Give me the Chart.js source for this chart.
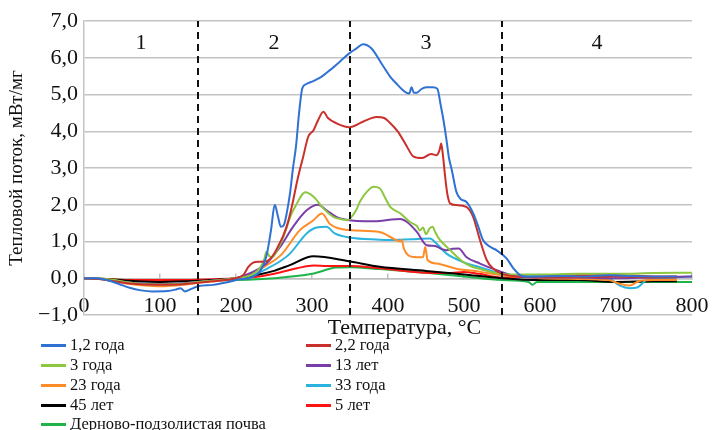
<!DOCTYPE html>
<html><head><meta charset="utf-8">
<script src="https://cdn.jsdelivr.net/npm/chart.js@4.4.1/dist/chart.umd.min.js"></script>
<style>
html,body{margin:0;padding:0;background:#fff;}
#wrap{position:relative;width:712px;height:430px;overflow:hidden;}
#c{position:absolute;left:0;top:0;width:712px;height:430px;}
#legend{position:absolute;left:0;top:0;width:712px;height:430px;pointer-events:none;font-family:"Liberation Serif","Times New Roman",serif;font-size:16.5px;color:#111;}
.item{position:absolute;display:flex;align-items:center;white-space:nowrap;height:20px;line-height:20px;}
.sw{width:25px;height:3px;margin-right:4px;flex:none;}
</style></head>
<body><div id="wrap"><canvas id="c" width="712" height="430"></canvas><div id="legend"></div></div>
<script>
const SERIF = '"Liberation Serif","Times New Roman",serif';

const seriesNames = ['1,2 года','2,2 года','3 года','13 лет','23 года','33 года','45 лет','5 лет','Дерново-подзолистая почва'];
const seriesColors = ['#2f72d4','#c9302c','#8dc63f','#7a3ea8','#ff8c26','#2ab3df','#000000','#ff1414','#1fb34a'];

const t_12 = [0,15,30,45,60,75,90,110,122,127,133,140,150,170,190,205,220,232,240,246,251,255,259,263,267,271,275,279,283,287,292,300,310,324,337,349,359,367,378,394,403,411,418,424,428,431,434,438,444,450,459,465,469,473,477,480,484,490,496,503,512,518,525,535,543,556,565,574,585,600,630,660,690,720,750,780];
const v_12 = [0,0,-0.05,-0.15,-0.26,-0.33,-0.36,-0.35,-0.3,-0.27,-0.36,-0.3,-0.22,-0.18,-0.1,-0.03,0.02,0.2,0.6,1.3,2.0,1.7,1.4,1.45,1.8,2.3,3.0,3.6,4.5,5.15,5.28,5.35,5.45,5.67,5.9,6.12,6.26,6.37,6.26,5.76,5.48,5.3,5.15,5.05,5.03,5.2,5.05,5.05,5.15,5.2,5.2,5.15,4.75,4.3,3.76,3.3,2.94,2.35,2.15,2.08,1.77,1.45,1.04,0.85,0.76,0.54,0.27,0.08,0.04,0.05,0.06,0.05,0.08,0.06,0.05,0.05];

const t_22 = [0,20,40,60,80,100,130,150,180,200,210,216,222,230,240,248,255,262,268,274,280,284,288,295,302,308,315,321,332,349,367,385,395,403,413,425,433,444,457,464,468,470,472,475,478,482,490,503,512,521,530,538,550,570,600,650,700,750,780];
const v_22 = [0,-0.02,-0.08,-0.14,-0.17,-0.18,-0.16,-0.12,-0.06,0,0.1,0.3,0.42,0.45,0.46,0.6,0.85,1.15,1.5,2.0,2.6,2.95,3.27,3.85,4.03,4.3,4.53,4.36,4.22,4.11,4.26,4.39,4.36,4.22,3.99,3.58,3.32,3.27,3.38,3.35,3.5,3.67,3.4,2.8,2.3,2.03,1.99,1.94,1.67,1.04,0.49,0.27,0.12,0.05,0.03,0.03,0.05,0.02,0.02];

const t_3 = [0,20,40,60,80,100,130,150,180,200,215,225,232,237,240,244,248,255,262,267,273,280,286,291,302,315,328,340,347,352,358,363,372,381,389,396,403,416,429,438,442,446,450,455,459,462,468,475,482,490,499,510,521,540,560,600,650,700,750,800];
const v_3 = [0,-0.01,-0.05,-0.12,-0.16,-0.17,-0.15,-0.1,-0.05,0,0.05,0.15,0.3,0.5,0.72,0.6,0.58,0.8,1.1,1.4,1.75,2.03,2.25,2.34,2.22,1.9,1.67,1.6,1.58,1.67,1.85,2.08,2.35,2.49,2.45,2.2,1.94,1.77,1.53,1.42,1.3,1.38,1.2,1.36,1.4,1.26,1.05,0.9,0.76,0.6,0.44,0.32,0.25,0.15,0.1,0.1,0.12,0.12,0.14,0.15];

const t_13 = [0,20,40,60,80,100,130,150,180,200,220,240,258,275,293,308,319,332,349,370,389,405,416,425,438,451,462,470,477,485,493,503,521,543,570,600,650,700,750,800];
const v_13 = [0,-0.01,-0.06,-0.12,-0.15,-0.16,-0.14,-0.1,-0.05,0,0.15,0.4,0.85,1.4,1.85,2.0,1.85,1.67,1.58,1.55,1.56,1.6,1.61,1.53,1.26,0.9,0.88,0.8,0.76,0.8,0.81,0.58,0.4,0.22,0.05,0.02,0.02,0.0,0.03,0.05];

const t_23 = [0,20,40,60,80,100,130,150,180,200,220,240,260,284,302,313,324,349,389,407,416,418,421,433,446,449,452,464,490,520,550,600,650,690,705,718,730,750,780];
const v_23 = [0,-0.02,-0.08,-0.16,-0.2,-0.22,-0.18,-0.12,-0.06,0,0.12,0.35,0.65,1.31,1.58,1.76,1.47,1.31,1.26,1.08,1.0,1.04,0.8,0.58,0.57,0.85,0.5,0.4,0.26,0.18,0.08,0.0,-0.02,-0.05,-0.15,-0.2,-0.08,-0.05,-0.05];

const t_33 = [0,20,40,60,80,100,130,150,180,200,220,240,270,293,306,319,330,349,389,403,430,455,464,477,499,521,550,600,650,690,705,718,728,740,760,800];
const v_33 = [0,-0.02,-0.06,-0.12,-0.15,-0.16,-0.14,-0.1,-0.05,0,0.08,0.25,0.65,1.22,1.38,1.4,1.22,1.11,1.05,1.04,1.06,1.08,0.94,0.67,0.44,0.3,0.12,0.05,0.03,0.0,-0.2,-0.27,-0.25,-0.05,0.0,0.05];

const t_45 = [0,30,60,100,150,200,230,250,270,302,349,389,450,500,550,600,650,700,750,780];
const v_45 = [0,-0.03,-0.07,-0.1,-0.07,0,0.1,0.2,0.35,0.6,0.46,0.31,0.2,0.1,0.0,-0.05,-0.05,-0.1,-0.08,-0.08];

const t_5 = [0,30,60,100,150,200,230,260,280,302,320,349,389,450,480,500,520,550,600,650,700,750,780];
const v_5 = [0,-0.02,-0.05,-0.05,-0.04,0,0.05,0.17,0.27,0.35,0.33,0.33,0.27,0.15,0.14,0.17,0.12,0.02,0.05,0.08,0.08,0.05,0.05];

const t_soil = [0,30,60,100,150,200,250,300,332,349,389,450,500,550,585,590,596,650,700,750,800];
const v_soil = [0,-0.02,-0.05,-0.06,-0.06,-0.05,0.0,0.12,0.29,0.3,0.25,0.15,0.05,-0.05,-0.1,-0.18,-0.1,-0.1,-0.1,-0.1,-0.1];

const seriesTemps = [t_12,t_22,t_3,t_13,t_23,t_33,t_45,t_5,t_soil];
const seriesFlux  = [v_12,v_22,v_3,v_13,v_23,v_33,v_45,v_5,v_soil];

const zoneBounds = [150,350,550];
const zoneLabels = ['1','2','3','4'];
const zoneLabelTemps = [75,250,450,675];
const zoneLabelLevel = 6.4;

const xMin = 0, xMax = 800, xStep = 100;
const yMin = -1, yMax = 7, yStep = 1;

const datasets = seriesNames.map((name,i)=>({
  label:name,
  data: seriesTemps[i].map((t,j)=>({x:t,y:seriesFlux[i][j]})),
  borderColor: seriesColors[i],
  backgroundColor: seriesColors[i],
  borderWidth: 2,
  pointRadius: 0,
  cubicInterpolationMode: 'monotone',
  fill: false,
  order: i
}));
zoneBounds.forEach(b=>{
  datasets.push({
    label:'', isZone:true,
    data:[{x:b,y:yMin},{x:b,y:yMax}],
    borderColor:'#111', borderWidth:2, borderDash:[7,5],
    pointRadius:0, fill:false, order:-1
  });
});

const zonePlugin = {
  id:'zoneText',
  afterDatasetsDraw(chart){
    const {ctx, scales:{x,y}} = chart;
    ctx.save();
    ctx.font = '22px ' + SERIF;
    ctx.fillStyle = '#111';
    ctx.textAlign = 'center';
    ctx.textBaseline = 'middle';
    zoneLabels.forEach((l,i)=>{
      ctx.fillText(l, x.getPixelForValue(zoneLabelTemps[i]), y.getPixelForValue(zoneLabelLevel));
    });
    ctx.restore();
  }
};

const fmt = v => (v<0?'\u2212':'') + Math.abs(v).toFixed(1).replace('.',',');

new Chart(document.getElementById('c'), {
  type:'line',
  data:{datasets},
  options:{
    responsive:false,
    animation:false,
    events:[],
    layout:{padding:{left:0,top:21,right:20,bottom:115}},
    plugins:{legend:{display:false}, tooltip:{enabled:false}},
    scales:{
      x:{
        type:'linear', min:xMin, max:xMax,
        position:{y:0},
        afterFit(s){ s.paddingRight = 0; s.paddingLeft = 0; },
        ticks:{stepSize:xStep, font:{family:SERIF,size:22}, color:'#111', padding:21, maxRotation:0, autoSkip:false},
        grid:{drawOnChartArea:false, drawTicks:true, tickLength:-6, color:'#bfbfbf', lineWidth:1.5},
        border:{display:true, color:'#bfbfbf', width:1.5},
        title:{display:true, text:'\u2003\u2002Температура, °C', font:{family:SERIF,size:22}, color:'#111', padding:{top:-26,bottom:0}}
      },
      y:{
        min:yMin, max:yMax,
        afterFit(s){ s.width = 84; },
        ticks:{stepSize:yStep, callback:fmt, font:{family:SERIF,size:22}, color:'#111', padding:6},
        grid:{color:'#c4c4c4', lineWidth:1.5, drawTicks:false},
        border:{display:true, color:'#c4c4c4', width:1.5},
        title:{display:true, text:'Тепловой поток, мВт/мг', font:{family:SERIF,size:19}, color:'#111', padding:{top:6,bottom:0}}
      }
    }
  },
  plugins:[zonePlugin]
});

const legend = document.getElementById('legend');
const rowY = [345,365,385,405,424];
const colX = [41,306];
seriesNames.forEach((name,i)=>{
  const row = Math.floor(i/2), col = i%2;
  const d = document.createElement('div');
  d.className='item';
  d.style.left = colX[col]+'px';
  d.style.top = (rowY[row]-10)+'px';
  const sw = document.createElement('span'); sw.className='sw'; sw.style.background = seriesColors[i];
  const tx = document.createElement('span'); tx.textContent = name;
  d.appendChild(sw); d.appendChild(tx);
  legend.appendChild(d);
});
</script>
</body></html>
